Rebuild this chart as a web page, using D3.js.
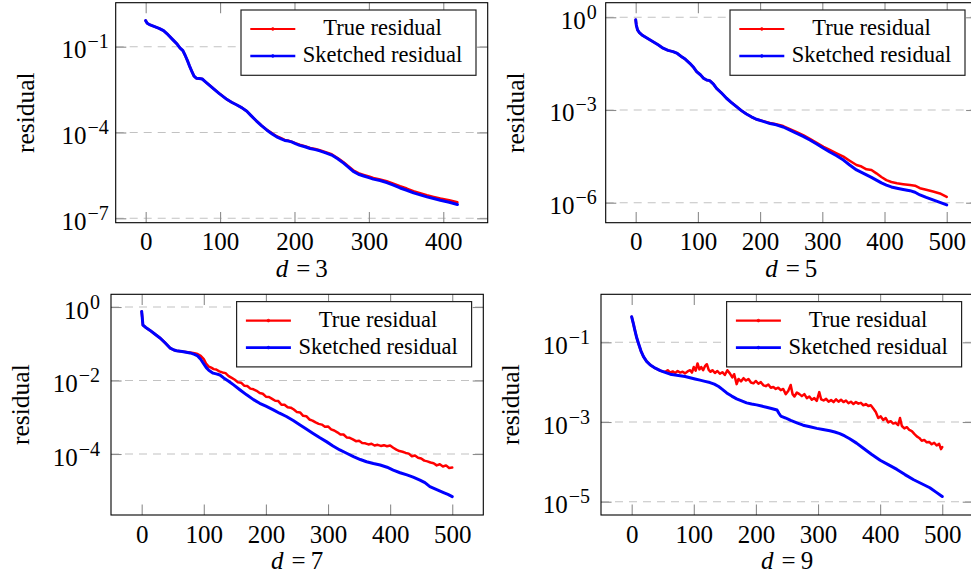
<!DOCTYPE html>
<html><head><meta charset="utf-8">
<script src="https://cdn.jsdelivr.net/npm/d3@7"></script>
<style>
body{margin:0;background:#fff}
svg{display:block}
svg text, svg tspan{font-family:"Liberation Serif","DejaVu Serif",serif !important;fill:#000}
</style>
</head><body>
<svg id="c" width="971" height="575" font-family="Liberation Serif"></svg>
<script>
// ---------- DATA: [iteration, log10(residual)] ----------
const seriesNames = ["True residual", "Sketched residual"];
const panelLabels = ["3", "5", "7", "9"];
const xTicks3 = [0, 100, 200, 300, 400];
const xTicks = [0, 100, 200, 300, 400, 500];
const yTicksD3 = [-1, -4, -7];
const yTicksD5 = [0, -3, -6];
const yTicksD7 = [0, -2, -4];
const yTicksD9 = [-1, -3, -5];

const d3Sketch = [[0,-0.09],[2,-0.18],[6,-0.24],[12,-0.30],[18,-0.36],[24,-0.44],[30,-0.58],[37,-0.77],[42,-0.90],[46,-1.04],[50,-1.14],[53,-1.30],[56,-1.48],[59,-1.68],[62,-1.86],[65,-2.03],[68,-2.10],[72,-2.11],[76,-2.13],[80,-2.22],[89,-2.42],[99,-2.64],[109,-2.84],[116,-2.95],[122,-3.03],[129,-3.13],[136,-3.26],[142,-3.42],[149,-3.60],[156,-3.77],[163,-3.92],[170,-4.05],[176,-4.15],[182,-4.22],[187,-4.28],[192,-4.30],[196,-4.33],[202,-4.40],[207,-4.45],[214,-4.50],[221,-4.56],[228,-4.60],[234,-4.64],[242,-4.71],[250,-4.79],[258,-4.92],[266,-5.07],[272,-5.20],[279,-5.36],[286,-5.46],[293,-5.52],[300,-5.58],[306,-5.63],[315,-5.68],[324,-5.75],[333,-5.84],[342,-5.94],[351,-6.02],[360,-6.11],[369,-6.18],[378,-6.25],[387,-6.31],[396,-6.37],[408,-6.44],[419,-6.52]];
const d3True = [[0,-0.09],[2,-0.18],[6,-0.24],[12,-0.30],[18,-0.36],[24,-0.44],[30,-0.58],[37,-0.77],[42,-0.90],[46,-1.04],[50,-1.14],[53,-1.30],[56,-1.48],[59,-1.68],[62,-1.86],[65,-2.03],[68,-2.10],[72,-2.11],[76,-2.13],[80,-2.22],[89,-2.42],[99,-2.64],[109,-2.84],[116,-2.95],[122,-3.03],[129,-3.13],[136,-3.26],[142,-3.42],[149,-3.60],[156,-3.76],[163,-3.91],[170,-4.03],[176,-4.13],[182,-4.20],[187,-4.26],[192,-4.29],[196,-4.32],[202,-4.38],[207,-4.43],[214,-4.48],[221,-4.54],[228,-4.58],[234,-4.62],[242,-4.69],[250,-4.76],[258,-4.89],[266,-5.04],[272,-5.17],[279,-5.32],[286,-5.42],[293,-5.48],[300,-5.54],[306,-5.59],[315,-5.64],[324,-5.70],[333,-5.79],[342,-5.88],[351,-5.96],[360,-6.05],[369,-6.12],[378,-6.19],[387,-6.25],[396,-6.31],[408,-6.37],[419,-6.44]];

const d5Sketch = [[0,-0.08],[1,-0.25],[3,-0.41],[6,-0.50],[10,-0.57],[18,-0.67],[28,-0.79],[36,-0.89],[44,-1.00],[52,-1.07],[60,-1.11],[67,-1.17],[74,-1.28],[80,-1.36],[87,-1.49],[93,-1.62],[98,-1.76],[104,-1.86],[109,-1.97],[114,-2.03],[119,-2.05],[125,-2.16],[130,-2.30],[138,-2.45],[146,-2.62],[154,-2.76],[162,-2.89],[170,-3.02],[178,-3.13],[186,-3.22],[194,-3.30],[205,-3.37],[216,-3.44],[226,-3.48],[237,-3.55],[248,-3.65],[259,-3.76],[270,-3.86],[280,-3.97],[291,-4.10],[302,-4.24],[312,-4.36],[323,-4.48],[334,-4.62],[344,-4.78],[355,-4.94],[363,-5.02],[371,-5.10],[379,-5.18],[387,-5.27],[395,-5.36],[403,-5.43],[411,-5.49],[420,-5.53],[430,-5.57],[441,-5.61],[449,-5.66],[457,-5.75],[467,-5.83],[478,-5.91],[489,-5.99],[500,-6.07]];
const d5True = [[0,-0.08],[1,-0.25],[3,-0.41],[6,-0.50],[10,-0.57],[18,-0.67],[28,-0.79],[36,-0.89],[44,-1.00],[52,-1.07],[60,-1.11],[67,-1.17],[74,-1.28],[80,-1.36],[87,-1.49],[93,-1.62],[98,-1.76],[104,-1.86],[109,-1.97],[114,-2.03],[119,-2.05],[125,-2.16],[130,-2.30],[138,-2.45],[146,-2.62],[154,-2.76],[162,-2.89],[170,-3.02],[178,-3.13],[186,-3.22],[194,-3.30],[205,-3.36],[216,-3.42],[226,-3.46],[237,-3.52],[248,-3.62],[259,-3.72],[270,-3.82],[280,-3.93],[291,-4.06],[302,-4.19],[312,-4.29],[323,-4.40],[334,-4.51],[344,-4.64],[355,-4.78],[363,-4.83],[371,-4.92],[379,-4.94],[387,-5.05],[395,-5.17],[403,-5.27],[411,-5.33],[420,-5.37],[430,-5.40],[441,-5.43],[449,-5.45],[457,-5.53],[467,-5.58],[478,-5.64],[489,-5.70],[500,-5.81]];

const d7Sketch = [[0,-0.12],[2,-0.49],[6,-0.55],[13,-0.63],[20,-0.72],[30,-0.85],[38,-0.98],[46,-1.12],[52,-1.17],[56,-1.19],[65,-1.21],[78,-1.25],[85,-1.29],[90,-1.33],[95,-1.42],[100,-1.55],[104,-1.65],[108,-1.72],[115,-1.80],[120,-1.82],[126,-1.85],[132,-1.93],[140,-2.02],[148,-2.12],[158,-2.25],[169,-2.39],[180,-2.52],[190,-2.62],[200,-2.70],[212,-2.80],[222,-2.89],[233,-2.98],[244,-3.09],[255,-3.21],[265,-3.32],[276,-3.44],[287,-3.56],[298,-3.67],[308,-3.78],[319,-3.89],[330,-3.98],[341,-4.07],[352,-4.15],[362,-4.21],[373,-4.26],[384,-4.30],[395,-4.36],[405,-4.44],[416,-4.51],[427,-4.57],[437,-4.63],[448,-4.71],[456,-4.78],[464,-4.89],[475,-4.97],[486,-5.05],[493,-5.10],[500,-5.16]];
const d7True = [[0,-0.12],[2,-0.49],[6,-0.55],[13,-0.63],[20,-0.72],[30,-0.85],[38,-0.98],[46,-1.12],[52,-1.17],[56,-1.19],[65,-1.21],[78,-1.24],[85,-1.26],[90,-1.28],[95,-1.33],[100,-1.42],[104,-1.55],[108,-1.62],[112,-1.65],[116,-1.69],[120,-1.70],[125,-1.75],[130,-1.78],[135,-1.80],[140,-1.88],[145,-1.93],[150,-1.98],[155,-2.05],[160,-2.06],[165,-2.14],[170,-2.15],[175,-2.22],[180,-2.24],[185,-2.28],[190,-2.34],[195,-2.36],[200,-2.44],[205,-2.45],[210,-2.50],[215,-2.55],[220,-2.56],[225,-2.66],[230,-2.66],[235,-2.73],[240,-2.74],[245,-2.79],[250,-2.86],[255,-2.87],[260,-2.96],[265,-2.97],[270,-3.06],[275,-3.09],[280,-3.14],[285,-3.18],[290,-3.20],[295,-3.26],[300,-3.25],[305,-3.33],[310,-3.36],[315,-3.41],[320,-3.47],[325,-3.47],[330,-3.55],[335,-3.56],[340,-3.60],[345,-3.65],[350,-3.64],[355,-3.70],[360,-3.71],[365,-3.74],[370,-3.72],[375,-3.77],[380,-3.75],[385,-3.78],[390,-3.76],[395,-3.79],[400,-3.77],[405,-3.83],[410,-3.88],[415,-3.92],[420,-3.94],[425,-3.97],[430,-3.99],[435,-4.06],[440,-4.04],[445,-4.10],[450,-4.12],[455,-4.18],[460,-4.20],[465,-4.23],[470,-4.25],[475,-4.31],[480,-4.28],[485,-4.34],[490,-4.31],[495,-4.38],[500,-4.37]];

const d9Sketch = [[0,-0.36],[3,-0.55],[5,-0.69],[8,-0.88],[11,-1.03],[15,-1.22],[19,-1.36],[24,-1.48],[30,-1.57],[38,-1.65],[46,-1.71],[55,-1.76],[62,-1.80],[70,-1.82],[78,-1.84],[86,-1.86],[94,-1.89],[102,-1.92],[110,-1.95],[118,-1.98],[126,-2.01],[133,-2.05],[140,-2.11],[146,-2.18],[153,-2.27],[161,-2.35],[169,-2.42],[177,-2.47],[185,-2.52],[193,-2.55],[201,-2.57],[209,-2.60],[217,-2.63],[225,-2.66],[234,-2.70],[237,-2.78],[240,-2.85],[248,-2.90],[256,-2.96],[266,-3.02],[276,-3.08],[287,-3.12],[298,-3.16],[308,-3.19],[319,-3.22],[327,-3.25],[335,-3.29],[343,-3.35],[351,-3.42],[362,-3.53],[373,-3.66],[386,-3.81],[400,-3.96],[413,-4.07],[427,-4.19],[440,-4.32],[454,-4.45],[467,-4.55],[480,-4.65],[490,-4.76],[500,-4.87]];
const d9True = [[0,-0.36],[3,-0.55],[5,-0.69],[8,-0.88],[11,-1.03],[15,-1.22],[19,-1.36],[24,-1.48],[30,-1.57],[38,-1.65],[46,-1.71],[50,-1.73],[54,-1.74],[58,-1.70],[62,-1.76],[66,-1.73],[70,-1.77],[74,-1.72],[78,-1.76],[82,-1.74],[86,-1.78],[90,-1.73],[94,-1.70],[97,-1.76],[100,-1.62],[103,-1.71],[106,-1.53],[109,-1.68],[112,-1.62],[115,-1.70],[118,-1.60],[121,-1.55],[124,-1.69],[127,-1.74],[130,-1.70],[134,-1.77],[138,-1.72],[142,-1.79],[146,-1.75],[150,-1.82],[154,-1.70],[158,-1.78],[162,-1.88],[165,-1.80],[169,-2.05],[172,-1.92],[176,-1.98],[180,-1.90],[184,-1.96],[188,-1.92],[192,-2.01],[196,-2.03],[200,-1.97],[204,-2.04],[208,-2.00],[212,-2.08],[216,-2.10],[220,-2.06],[224,-2.14],[228,-2.12],[232,-2.17],[236,-2.14],[240,-2.20],[244,-2.17],[248,-2.30],[252,-2.22],[256,-2.07],[259,-2.30],[262,-2.36],[266,-2.26],[270,-2.30],[274,-2.35],[278,-2.30],[282,-2.40],[286,-2.36],[290,-2.44],[294,-2.40],[298,-2.47],[302,-2.25],[305,-2.43],[309,-2.46],[313,-2.42],[317,-2.49],[321,-2.45],[325,-2.50],[329,-2.43],[333,-2.49],[337,-2.44],[341,-2.50],[345,-2.46],[349,-2.53],[353,-2.49],[357,-2.55],[361,-2.50],[365,-2.54],[369,-2.52],[373,-2.58],[377,-2.55],[381,-2.60],[385,-2.58],[389,-2.66],[393,-2.75],[397,-2.90],[401,-2.86],[405,-2.95],[409,-2.90],[413,-3.01],[417,-2.98],[421,-3.04],[425,-3.02],[429,-3.08],[432,-2.90],[435,-3.10],[439,-3.16],[443,-3.13],[447,-3.20],[451,-3.23],[455,-3.30],[459,-3.36],[463,-3.40],[467,-3.47],[471,-3.45],[475,-3.51],[479,-3.50],[483,-3.56],[487,-3.52],[491,-3.59],[495,-3.55],[498,-3.68],[500,-3.63]];

// ---------- LAYOUT ----------
const FONT = '"Liberation Serif","DejaVu Serif",serif';
const panels = [
  {lab:panelLabels[0], tr:d3True, sk:d3Sketch, xt:xTicks3, yt:yTicksD3, l:115.7, t:2.7, r:487.7, b:222.7, xd:[-40.3,459.7], yd:[-7.154,0.538], gap:7},
  {lab:panelLabels[1], tr:d5True, sk:d5Sketch, xt:xTicks,  yt:yTicksD5, l:605.7, t:2.7, r:976.7, b:222.7, xd:[-48.2,548.2], yd:[-6.647,0.472], gap:9},
  {lab:panelLabels[2], tr:d7True, sk:d7Sketch, xt:xTicks,  yt:yTicksD7, l:111,   t:294.3, r:483.3, b:515, xd:[-49.4,550], yd:[-5.66,0.346], gap:11},
  {lab:panelLabels[3], tr:d9True, sk:d9Sketch, xt:xTicks,  yt:yTicksD9, l:601,   t:294.3, r:973.3, b:515, xd:[-49.4,550], yd:[-5.334,0.205], gap:11}
];
const colors = ["#ff0000", "#0000ff"];
const widths = [2.5, 3.0];
const svg = d3.select("#c");
const TL = 10.6;

panels.forEach((p, k) => {
  const x = d3.scaleLinear().domain(p.xd).range([p.l, p.r]);
  const y = d3.scaleLog().domain([10 ** p.yd[0], 10 ** p.yd[1]]).range([p.b, p.t]);
  const g = svg.append("g").attr("font-family", FONT);
  const cid = "clip" + k;
  svg.append("clipPath").attr("id", cid).append("rect")
    .attr("x", p.l).attr("y", p.t).attr("width", p.r - p.l).attr("height", p.b - p.t);

  // grid
  g.selectAll("line.grid").data(p.yt).join("line").attr("class", "grid")
    .attr("x1", p.l).attr("x2", p.r)
    .attr("y1", d => y(10 ** d)).attr("y2", d => y(10 ** d))
    .attr("stroke", "#c2c2c2").attr("stroke-width", 1.1).attr("stroke-dasharray", "8,6");

  // axes ticks
  const styleAxis = a => { a.attr("font-family", FONT); a.select(".domain").remove(); a.selectAll(".tick line").attr("stroke", "#8c8c8c").attr("stroke-width", 1.1); };
  const ab = g.append("g").attr("transform", `translate(0,${p.b})`)
    .call(d3.axisBottom(x).tickValues(p.xt).tickSize(-TL).tickPadding(9.8).tickFormat(d3.format("d")));
  styleAxis(ab);
  ab.selectAll(".tick text").attr("font-family", FONT).attr("font-size", 25).attr("fill", "#000");
  const at = g.append("g").attr("transform", `translate(0,${p.t})`)
    .call(d3.axisTop(x).tickValues(p.xt).tickSize(-TL).tickFormat(""));
  styleAxis(at);
  const yv = p.yt.map(e => 10 ** e);
  const al = g.append("g").attr("transform", `translate(${p.l},0)`)
    .call(d3.axisLeft(y).tickValues(yv).tickSize(-TL).tickFormat(""));
  styleAxis(al);
  const ar = g.append("g").attr("transform", `translate(${p.r},0)`)
    .call(d3.axisRight(y).tickValues(yv).tickSize(-TL).tickFormat(""));
  styleAxis(ar);

  // y tick labels with superscripts
  p.yt.forEach(e => {
    const t = g.append("text").attr("x", p.l - p.gap).attr("y", y(10 ** e) + 11.5)
      .attr("text-anchor", "end").attr("font-size", 25).attr("font-family", FONT);
    t.append("tspan").text("10");
    t.append("tspan").attr("dy", -10).attr("dx", 1).attr("font-size", 20).text(e < 0 ? "\u2212" + (-e) : String(e));
  });

  // lines
  const line = d3.line().x(d => x(d[0])).y(d => y(10 ** d[1]));
  const lg = g.append("g").attr("clip-path", `url(#${cid})`);
  [p.tr, p.sk].forEach((s, i) => {
    lg.append("path").datum(s).attr("d", line).attr("fill", "none")
      .attr("stroke", colors[i]).attr("stroke-width", widths[i])
      .attr("stroke-linejoin", "round").attr("stroke-linecap", "round");
  });

  // frame
  g.append("rect").attr("x", p.l).attr("y", p.t).attr("width", p.r - p.l).attr("height", p.b - p.t)
    .attr("fill", "none").attr("stroke", "#000").attr("stroke-width", 1.1);

  // legend
  const lw = 235, lh = 65.3;
  const lx = p.r - 11.7 - lw, ly = p.t + 7.3;
  const leg = g.append("g");
  leg.append("rect").attr("x", lx).attr("y", ly).attr("width", lw).attr("height", lh)
    .attr("fill", "#fff").attr("stroke", "#222").attr("stroke-width", 1.2);
  seriesNames.forEach((n, i) => {
    const yy = ly + 19 + i * 27;
    leg.append("line").attr("x1", lx + 9.3).attr("x2", lx + 54.3).attr("y1", yy).attr("y2", yy)
      .attr("stroke", colors[i]).attr("stroke-width", widths[i] - 0.3);
    leg.append("circle").attr("cx", lx + 31.8).attr("cy", yy).attr("r", 1.4)
      .attr("fill", colors[i]).attr("stroke", colors[i]).attr("stroke-width", 0.6);
    leg.append("text").attr("x", lx + 141.5).attr("y", yy + 6.2).attr("text-anchor", "middle")
      .attr("font-family", FONT).attr("font-size", 22.5).text(n);
  });

  // axis labels
  const cx = (p.l + p.r) / 2, cy = (p.t + p.b) / 2;
  const xl = g.append("text").attr("x", cx).attr("y", p.b + 54).attr("text-anchor", "middle")
    .attr("font-family", FONT).attr("font-size", 25);
  xl.append("tspan").attr("font-style", "italic").text("d");
  xl.append("tspan").text("\u2009=\u2009" + p.lab).attr("dx", 3);
  g.append("text").attr("transform", `translate(${p.l - 82},${cy}) rotate(-90)`)
    .attr("text-anchor", "middle").attr("font-family", FONT).attr("font-size", 25.5).text("residual");
});
</script>
</body></html>
